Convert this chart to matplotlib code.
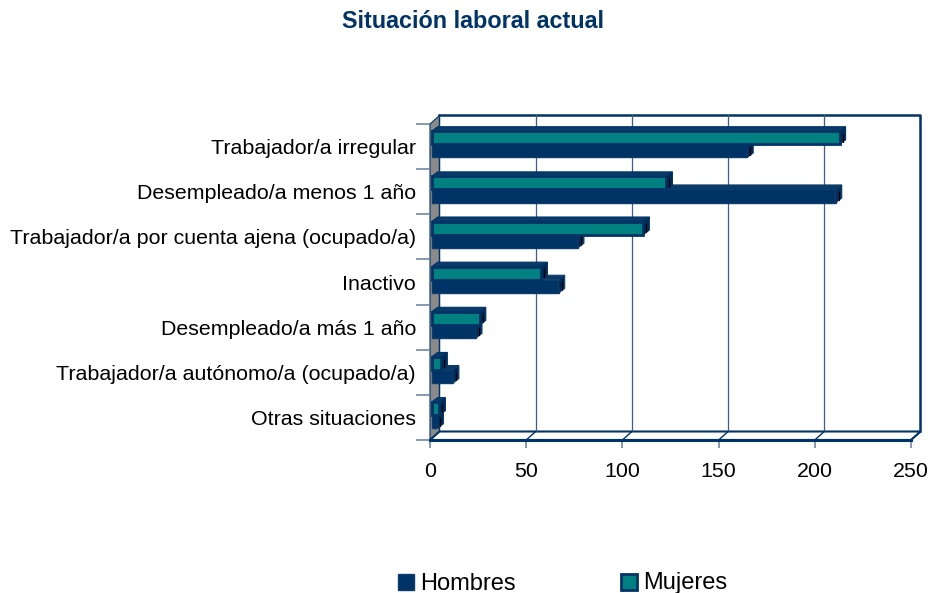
import matplotlib
matplotlib.use("Agg")
import matplotlib.pyplot as plt
from matplotlib.patches import Polygon, Rectangle
import numpy as np

plt.rcParams['font.family'] = ['Liberation Sans', 'DejaVu Sans']

# datos
categorias = ["Trabajador/a irregular",
              "Desempleado/a menos 1 año",
              "Trabajador/a por cuenta ajena (ocupado/a)",
              "Inactivo",
              "Desempleado/a más 1 año",
              "Trabajador/a autónomo/a (ocupado/a)",
              "Otras situaciones"]
hombres = [164, 210, 76, 66, 23, 11, 3]
mujeres = [212, 122, 110, 57, 25, 5, 4]
xticks = [0, 50, 100, 150, 200, 250]

navy = '#003366'
teal = '#008080'

W, H = 929, 593
fig = plt.figure(figsize=(W / 100, H / 100), dpi=100)

# front face of the plot area in pixels
L, R, T, B = 430, 911, 124, 440
ax = fig.add_axes([L / W, 1 - B / H, (R - L) / W, (B - T) / H])
n = len(categorias)
ax.set_xlim(0, 250)
ax.set_ylim(n - 0.5, -0.5)

sx = 250 / (R - L)   # data units per pixel
sy = n / (B - T)

# depth of the walls and of the bars (pixels: right, up)
wdx, wdy = 9.5 * sx, -8.5 * sy
bdx, bdy = 6 * sx, -4.5 * sy
x0 = 1.7 * sx

ytop, ybot = -0.5, n - 0.5

# left wall
ax.add_patch(Polygon([(0, ytop), (wdx, ytop + wdy), (wdx, ybot + wdy), (0, ybot)],
                     closed=True, fc='#8a8a8a', ec=navy, lw=0.8, clip_on=False, zorder=1))
# floor
ax.add_patch(Polygon([(0, ybot), (250, ybot), (250 + wdx, ybot + wdy), (wdx, ybot + wdy)],
                     closed=True, fc='white', ec=navy, lw=1.5, clip_on=False, zorder=1))
ax.plot([0, 250], [ybot, ybot], color=navy, lw=2.2, clip_on=False, zorder=2)
# back wall
ax.plot([wdx, 250 + wdx, 250 + wdx], [ytop + wdy, ytop + wdy, ybot + wdy],
        color=navy, lw=1.8, clip_on=False, zorder=1)
ax.plot([wdx, wdx], [ytop + wdy, ybot + wdy], color=navy, lw=1.0, clip_on=False, zorder=1)
for xv in xticks[1:-1]:
    ax.plot([xv + wdx, xv + wdx], [ytop + wdy, ybot + wdy], color='#3a5f8a', lw=0.9,
            clip_on=False, zorder=1)
for xv in xticks[1:]:
    ax.plot([xv, xv + wdx], [ybot, ybot + wdy], color=navy, lw=1.0, clip_on=False, zorder=2)

h = 0.29
pos = np.arange(n)


def bar3d(y0, val, face, edge, top, side, elw):
    # y0 = upper edge (smaller data value), bar goes down to y0 + h
    ax.barh(y0 + h / 2, val, height=h, left=x0, color=face, edgecolor=edge,
            linewidth=elw, clip_on=False, zorder=3)
    xe = x0 + val
    ax.add_patch(Polygon([(x0, y0), (xe, y0), (xe + bdx, y0 + bdy), (x0 + bdx, y0 + bdy)],
                         closed=True, fc=top, ec=edge, lw=0.8, clip_on=False, zorder=3))
    ax.add_patch(Polygon([(xe, y0), (xe + bdx, y0 + bdy), (xe + bdx, y0 + h + bdy), (xe, y0 + h)],
                         closed=True, fc=side, ec=edge, lw=0.8, clip_on=False, zorder=3))
    ax.plot([xe + bdx * 0.5, xe + bdx * 0.5], [y0 + 0.06, y0 + h - 0.06], color='black',
            lw=0.8, clip_on=False, zorder=3)


for i in pos:
    bar3d(i - 0.05, hombres[i], navy, '#0f3d6b', '#0a3a68', '#002a55', 1.0)
    bar3d(i - 0.34, mujeres[i], teal, navy, '#0a3a68', '#002a55', 2.0)

# axes decoration
for s in ax.spines.values():
    s.set_visible(False)
ax.set_xticks(xticks)
ax.set_xticklabels([str(v) for v in xticks], fontsize=15.4)
ax.tick_params(axis='x', length=6, color='#6f86a8', width=1.2, pad=10)
ax.set_yticks(pos)
ax.set_yticklabels(categorias, fontsize=15.4)
ax.set_yticks(np.arange(n + 1) - 0.5, minor=True)
ax.tick_params(axis='y', which='major', length=0, pad=10)
ax.tick_params(axis='y', which='minor', length=10, color='#6f86a8', width=1.2)
ax.patch.set_visible(False)

fig.text(472.5 / W, 1 - 21 / H, "Situación laboral actual", ha='center', va='center',
         fontsize=16.8, fontweight='bold', color=navy)

# legend
fig.patches.append(Rectangle((398.5 / W, 1 - 589.5 / H), 16 / W, 16 / H, transform=fig.transFigure,
                             fc=navy, ec='#0f3d6b', lw=1))
fig.text(420.5 / W, 1 - 589.5 / H, "Hombres", ha='left', va='baseline', fontsize=17)
fig.patches.append(Rectangle((621 / W, 1 - 589.5 / H), 16 / W, 16 / H, transform=fig.transFigure,
                             fc=teal, ec=navy, lw=2))
fig.text(643 / W, 1 - 589.5 / H, "Mujeres", ha='left', va='baseline', fontsize=17)

fig.savefig("out.png", dpi=100)
